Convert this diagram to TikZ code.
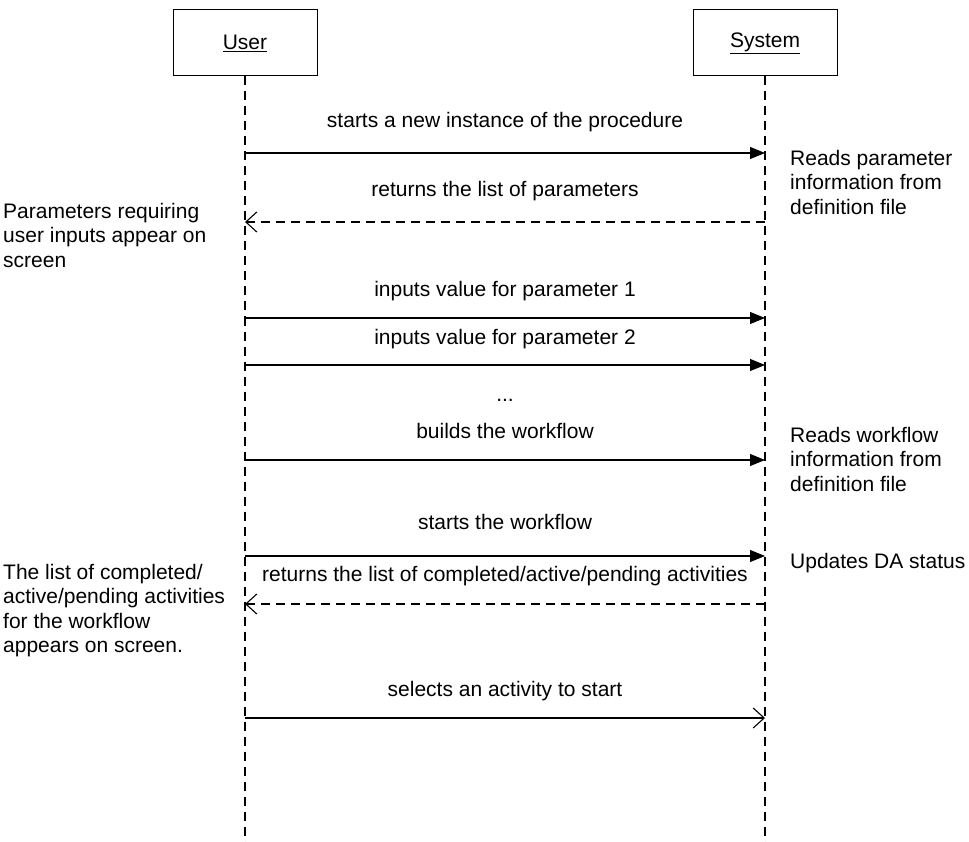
\documentclass[tikz,border=0pt]{standalone}
\usepackage{fontspec}
\setmainfont{Liberation Sans}
\usetikzlibrary{arrows.meta}
\begin{document}
\begin{tikzpicture}[x=1pt,y=-1pt,
  font=\fontsize{21}{24.5}\selectfont,
  actor/.style={draw,line width=1pt,minimum width=144pt,minimum height=66pt,inner sep=0pt},
  life/.style={line width=1.2pt,dash pattern=on 9pt off 6pt},
  sync/.style={line width=1.1pt,-{Triangle[length=15pt,width=12pt]}},
  ret/.style={line width=1.1pt,dash pattern=on 9pt off 6pt,-{Straight Barb[length=11pt,width=20pt,line width=1.1pt]}},
  async/.style={line width=1.1pt,-{Straight Barb[length=11pt,width=20pt,line width=1.1pt]}},
  msg/.style={anchor=base},
  note/.style={align=left,anchor=north west,inner sep=0pt}]
\useasboundingbox (0,0) rectangle (969,842);
\node[actor] (user) at (245,43) {\underline{User}};
\node[actor] (sys) at (765,43) {\underline{System}};
\coordinate (uend) at (245,842);
\coordinate (send) at (765,842);
\draw[life] (user.south) -- (uend);
\draw[life] (sys.south) -- (send);
% message coordinates
\foreach \n/\y in {a/153,b/222,c/318,d/365,e/460,f/556,g/604,h/718}{
  \coordinate (u\n) at (245,\y);
  \coordinate (s\n) at (765,\y);
}
\draw[sync] (ua) -- (sa) node[msg,midway,yshift=25pt] (ma) {starts a new instance of the procedure};
\draw[ret] (sb) -- (ub) node[msg,midway,yshift=25pt] (mb) {returns the list of parameters};
\draw[sync] (uc) -- (sc) node[msg,midway,yshift=21pt] (mc) {inputs value for parameter 1};
\draw[sync] (ud) -- (sd) node[msg,midway,yshift=21pt] (md) {inputs value for parameter 2};
\node[msg] (dots) at (505,401) {...};
\draw[sync] (ue) -- (se) node[msg,midway,yshift=22pt] (me) {builds the workflow};
\draw[sync] (uf) -- (sf) node[msg,midway,yshift=27pt] (mf) {starts the workflow};
\draw[ret] (sg) -- (ug) node[msg,midway,yshift=23pt] (mg) {returns the list of completed/active/pending activities};
\draw[async] (uh) -- (sh) node[msg,midway,yshift=22pt] (mh) {selects an activity to start};
% notes
\node[note] (n1) at (790,150) {Reads parameter\\information from\\definition file};
\node[note] (n2) at (3,203) {Parameters requiring\\user inputs appear on\\screen};
\node[note] (n3) at (790,427) {Reads workflow\\information from\\definition file};
\node[note] (n4) at (790,553) {Updates DA status};
\node[note] (n5) at (3,564) {The list of completed/\\active/pending activities\\for the workflow\\appears on screen.};
\end{tikzpicture}
\end{document}
